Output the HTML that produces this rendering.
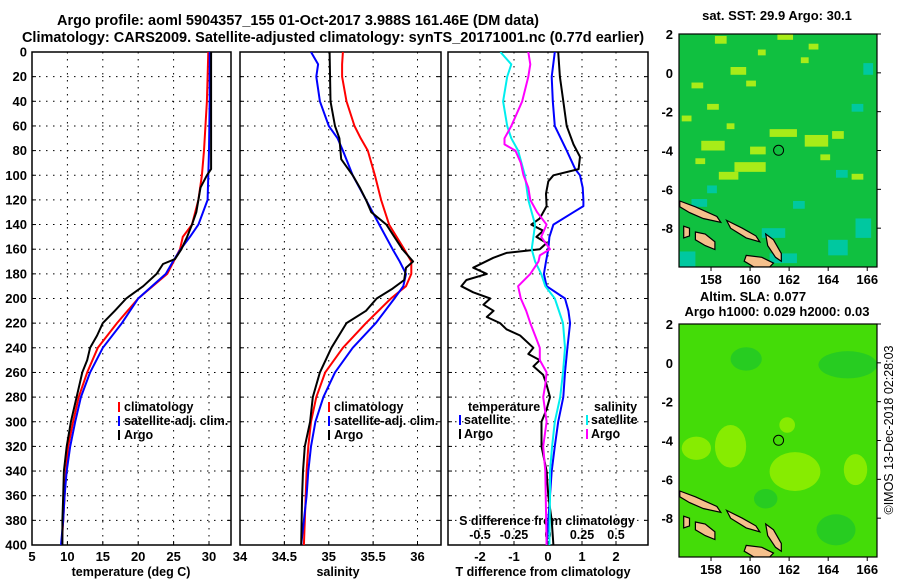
<!DOCTYPE html>
<html><head><meta charset="utf-8">
<style>
html,body{margin:0;padding:0;background:#fff;}
svg{display:block;font-family:"Liberation Sans",sans-serif;font-weight:bold;}
</style></head>
<body>
<svg id="fig" width="900" height="580" viewBox="0 0 900 580" xmlns="http://www.w3.org/2000/svg">
<text x="298" y="25" font-size="14.5" text-anchor="middle">Argo profile: aoml 5904357_155 01-Oct-2017 3.988S 161.46E (DM data)</text>
<text x="333" y="42" font-size="14.5" text-anchor="middle">Climatology: CARS2009. Satellite-adjusted climatology: synTS_20171001.nc (0.77d earlier)</text>
<g id="root"></g>
</svg>
<script>
// ---------- data ----------
const tDepth = [0,40,80,100,120,140,150,160,170,180,200,220,240,260,280,300,320,340,360,380,400];
const tClim  = [29.9,29.7,29.3,29.0,28.5,27.6,26.3,25.9,25.0,24.1,20.0,17.0,14.3,12.8,11.6,10.8,10.1,9.8,9.6,9.4,9.2];
const tSat   = [30.1,30.1,30.0,29.9,29.8,28.5,27.3,26.0,24.9,23.9,20.0,17.7,15.0,13.2,11.9,11.1,10.4,9.9,9.6,9.4,9.1];
const argoDepth = [0,80,95,100,110,120,130,140,150,160,168,172,180,190,200,210,220,230,240,250,260,280,300,320,340,360,380,400];
const tArgo  = [30.3,30.3,30.3,29.7,28.8,28.5,28.2,27.6,26.9,26.1,25.2,23.5,22.6,20.7,18.3,16.7,15.0,14.2,13.2,12.8,12.1,11.3,10.5,9.9,9.5,9.4,9.3,9.3];
const sDepth = [0,10,20,40,60,70,80,100,120,140,160,170,180,190,200,220,240,260,280,300,320,340,360,400];
const sClim  = [35.16,35.15,35.15,35.2,35.29,35.36,35.44,35.52,35.59,35.68,35.85,35.93,35.93,35.87,35.7,35.42,35.16,34.96,34.86,34.8,34.77,34.75,34.74,34.72];
const sSat   = [34.8,34.88,34.86,34.9,35.0,35.1,35.16,35.27,35.42,35.57,35.72,35.8,35.87,35.84,35.74,35.53,35.27,35.07,34.94,34.85,34.8,34.77,34.75,34.69];
const sArgoDepth = [0,40,60,70,87,100,110,120,130,140,150,160,170,175,185,192,200,210,220,240,260,280,300,320,340,360,400];
const sArgo  = [35.01,35.02,35.07,35.12,35.14,35.27,35.35,35.42,35.48,35.65,35.74,35.83,35.95,35.87,35.85,35.72,35.54,35.42,35.2,35.03,34.9,34.82,34.79,34.73,34.71,34.7,34.69];
const dDepthSat = [0,20,40,60,80,95,100,110,120,125,130,140,150,160,170,180,190,200,210,220,240,260,280,300,320,340,360,380,400];
const dTSat  = [0.2,0.11,0.14,0.2,0.55,0.8,0.94,1.02,1.04,1.04,0.75,0.16,0.04,0.01,-0.06,-0.12,-0.04,0.5,0.6,0.65,0.57,0.5,0.45,0.3,0.2,0.11,0.06,0.01,-0.04];
const dDepthArgo = [0,20,40,60,75,85,95,100,105,115,125,135,140,145,150,155,160,163,167,175,180,185,190,195,200,205,210,215,220,225,230,240,245,250,255,262,270,280,290,300,320,340,360,380,400];
const dTArgo = [0.3,0.35,0.45,0.55,0.75,0.94,0.9,0.16,0.01,-0.06,-0.04,-0.24,-0.49,-0.14,-0.34,-0.04,-0.24,-1.22,-1.61,-2.2,-1.8,-2.4,-2.55,-2.2,-1.7,-1.9,-1.6,-1.8,-1.41,-1.22,-0.82,-0.43,-0.58,-0.24,-0.43,-0.14,-0.04,0.06,-0.04,-0.19,-0.19,-0.04,0.01,0.11,0.16];
const dSDepth = [0,10,20,40,60,70,80,100,120,140,160,170,180,190,200,220,240,260,280,300,320,340,360,400];
const dSSat  = [-0.35,-0.27,-0.3,-0.33,-0.3,-0.27,-0.22,-0.17,-0.145,-0.095,-0.12,-0.095,-0.05,-0.02,0.05,0.11,0.125,0.11,0.09,0.05,0.03,0.015,0.015,0.01];
const dSArgoDepth = [0,10,20,40,60,70,75,80,90,100,110,120,130,140,150,160,165,170,180,190,200,210,220,230,240,250,260,270,280,300,320,340,400];
const dSArgo = [-0.145,-0.13,-0.145,-0.19,-0.27,-0.32,-0.32,-0.24,-0.2,-0.18,-0.145,-0.13,-0.08,-0.01,-0.05,0.015,-0.06,-0.07,-0.13,-0.22,-0.2,-0.16,-0.13,-0.095,-0.06,-0.06,-0.01,-0.02,-0.035,-0.01,-0.035,-0.02,-0.01];
const depthTicks = [0,20,40,60,80,100,120,140,160,180,200,220,240,260,280,300,320,340,360,380,400];
const tTicks = [5,10,15,20,25,30];
const sTicks = [34,34.5,35,35.5,36];
const dTTicks = [-2,-1,0,1,2];
const dSTickLabels = ["-0.5","-0.25","0","0.25","0.5"];
const dSTicks = [-0.5,-0.25,0,0.25,0.5];
const latTicks = [2,0,-2,-4,-6,-8];
const lonTicks = [158,160,162,164,166];
// map patches: [lon, lat, widthDeg, heightDeg]
const sstWarm = [[158.2,1.9,0.6,0.4],[161.4,2,0.8,0.3],[159,0.3,0.8,0.4],[157,-0.5,0.6,0.3],[161,-2.9,1.4,0.4],[162.8,-3.2,1.2,0.6],[157.5,-3.5,1.2,0.5],[159.2,-4.6,1.6,0.5],[158.4,-5.1,1,0.4],[164.2,-3,0.6,0.4],[156.5,-2.2,0.5,0.3],[163,1.5,0.5,0.3],[160,-3.8,0.8,0.4],[165.2,-5.2,0.6,0.3],[159.8,-0.4,0.5,0.3],[157.8,-1.6,0.6,0.3],[160.4,1.2,0.4,0.3],[162.6,0.8,0.4,0.3],[158.8,-2.6,0.4,0.3],[163.6,-4.2,0.5,0.3],[157.2,-4.4,0.5,0.3]];
const sstCool = [[156.4,-9.2,0.8,0.8],[160.6,-8,1.2,0.5],[164,-8.6,1,0.8],[165.4,-7.5,0.8,1],[164.4,-5,0.6,0.4],[161,-9.3,1.4,0.5],[157,-6.5,0.8,0.4],[165.8,0.5,0.5,0.6],[165.2,-1.6,0.6,0.4],[157.8,-5.8,0.5,0.4],[162.2,-6.6,0.6,0.4]];
const slaHigh = [[158.2,-3.2,1.6,2.2],[161,-4.6,2.6,2],[164.8,-4.7,1.2,1.6],[156.5,-3.8,1.5,1.2],[161.5,-2.8,0.8,0.8]];
const slaLow  = [[159,0.8,1.6,1.2],[163.5,0.6,3,1.4],[163.4,-7.8,2,1.6],[160.2,-6.5,1.2,1]];
// islands as lon/lat polygons
const islandA = [[156.4,-6.6],[157.2,-6.9],[158.3,-7.4],[158.5,-7.7],[157.6,-7.5],[156.9,-7.2],[156.4,-6.9]];
const islandB = [[158.8,-7.6],[159.6,-8.0],[160.3,-8.4],[160.5,-8.7],[159.8,-8.5],[159.0,-8.0]];
const islandC = [[159.8,-9.4],[160.6,-9.5],[161.2,-9.8],[161.0,-10],[160.2,-10],[159.7,-9.7]];
const islandD = [[160.8,-8.3],[161.2,-8.6],[161.6,-9.3],[161.6,-9.7],[161.3,-9.5],[160.9,-8.9]];
const islandE = [[157.2,-8.2],[157.7,-8.3],[158.2,-8.7],[158.2,-9.1],[157.7,-8.9],[157.2,-8.6]];
const islandF = [[156.6,-7.9],[156.9,-8.0],[156.9,-8.4],[156.6,-8.5]];
const argoLon = 161.46, argoLat = -3.988;

// ---------- helpers ----------
const NS = "http://www.w3.org/2000/svg";
const root = document.getElementById('root');
function mk(tag, attrs, parent){const e=document.createElementNS(NS,tag);for(const k in attrs)e.setAttribute(k,attrs[k]);(parent||root).appendChild(e);return e;}
const Y0=52, Y1=545;
const yD = d => Y0 + (Y1-Y0)*d/400;
function lin(d0,d1,r0,r1){return v=>r0+(v-d0)*(r1-r0)/(d1-d0);}
const P1={x0:32,x1:231}, P2={x0:240,x1:441}, P3={x0:448,x1:648};
const xT = lin(5,30,32,209);
const xS = lin(34,36,240,417.5);
const xDT = lin(-2,2,480,616);
const xDS = lin(-0.5,0.5,480,616);

function panel(P,name,vgrid,xf){
  const g=mk('g',{});
  
  
  depthTicks.forEach(d=>{
    if(d>0&&d<400){const l=mk('line',{x1:P.x0,x2:P.x1,y1:yD(d),y2:yD(d),stroke:'#000','stroke-width':1,'stroke-dasharray':'1.5,5.5'},g);
    }
    mk('line',{x1:P.x0,x2:P.x0+4,y1:yD(d),y2:yD(d),stroke:'#000','stroke-width':1},g);
    mk('line',{x1:P.x1,x2:P.x1-4,y1:yD(d),y2:yD(d),stroke:'#000','stroke-width':1},g);
  });
  vgrid.forEach(v=>{const x=xf(v); if(x>P.x0+1&&x<P.x1-1){
    const l=mk('line',{x1:x,x2:x,y1:Y0,y2:Y1,stroke:'#000','stroke-width':1,'stroke-dasharray':'1.5,5.5'},g);
    }
    mk('line',{x1:x,x2:x,y1:Y1,y2:Y1-4,stroke:'#000'},g);});
  const r=mk('rect',{x:P.x0,y:Y0,width:P.x1-P.x0,height:Y1-Y0,fill:'none',stroke:'#000','stroke-width':1.5},g);
  
  const cp=mk('clipPath',{id:'cp'+name},g);mk('rect',{x:P.x0,y:Y0,width:P.x1-P.x0,height:Y1-Y0},cp);
  return g;
}
function line(depths,vals,xf,color,name,clip){
  const pts=depths.map((d,i)=>xf(vals[i]).toFixed(1)+','+yD(d).toFixed(1)).join(' ');
  const p=mk('polyline',{points:pts,fill:'none',stroke:color,'stroke-width':2,'stroke-linejoin':'round','clip-path':'url(#cp'+clip+')'});
  
  
}
function text(x,y,s,opts,name){const t=mk('text',Object.assign({x:x,y:y,'font-size':12.5},opts||{}));t.textContent=s;
  
  return t;}

// ---------- panel 1 temperature ----------
panel(P1,'temperature-panel',tTicks,xT);
depthTicks.forEach(d=>text(27,yD(d)+4.5,String(d),{'text-anchor':'end','font-size':13},'depth-tick-label'));
tTicks.forEach(v=>text(xT(v),561,String(v),{'text-anchor':'middle','font-size':13},'temperature-tick-label'));
text(131,576,'temperature (deg C)',{'text-anchor':'middle'},'temperature-axis-title');
line(tDepth,tClim,xT,'#ff0000','temp-climatology-line','temperature-panel');
line(tDepth,tSat,xT,'#0000ff','temp-satellite-line','temperature-panel');
line(argoDepth,tArgo,xT,'#000000','temp-argo-line','temperature-panel');

// ---------- panel 2 salinity ----------
panel(P2,'salinity-panel',sTicks,xS);
sTicks.forEach(v=>text(xS(v),561,String(v),{'text-anchor':'middle','font-size':13},'salinity-tick-label'));
text(338,576,'salinity',{'text-anchor':'middle'},'salinity-axis-title');
line(sDepth,sClim,xS,'#ff0000','sal-climatology-line','salinity-panel');
line(sDepth,sSat,xS,'#0000ff','sal-satellite-line','salinity-panel');
line(sArgoDepth,sArgo,xS,'#000000','sal-argo-line','salinity-panel');

// legends panels 1 & 2
[[119,'temp-legend'],[329,'sal-legend']].forEach(([lx,nm])=>{
  [['climatology','#ff0000',407],['satellite-adj. clim.','#0000ff',421],['Argo','#000',435]].forEach(([lab,c,y])=>{
    const b=mk('rect',{x:lx-1,y:y-5,width:2,height:10,fill:c});
    
    text(lx+5,y+4,lab,{},nm+'-entry');
  });
});

// ---------- panel 3 differences ----------
panel(P3,'difference-panel',dTTicks,xDT);
dTTicks.forEach(v=>text(xDT(v),561,String(v),{'text-anchor':'middle','font-size':13},'t-diff-tick-label'));
text(543,576,'T difference from climatology',{'text-anchor':'middle'},'t-diff-axis-title');
text(547,525,'S difference from climatology',{'text-anchor':'middle'},'s-diff-axis-title');
dSTicks.forEach((v,i)=>text(xDS(v),539,dSTickLabels[i],{'text-anchor':'middle'},'s-diff-tick-label'));
line(dDepthSat,dTSat,xDT,'#0000ff','t-diff-satellite-line','difference-panel');
line(dDepthArgo,dTArgo,xDT,'#000000','t-diff-argo-line','difference-panel');
line(dSDepth,dSSat,xDS,'#00eeee','s-diff-satellite-line','difference-panel');
line(dSArgoDepth,dSArgo,xDS,'#ff00ff','s-diff-argo-line','difference-panel');
text(468,411,'temperature',{},'t-legend-heading');
text(594,411,'salinity',{},'s-legend-heading');
[[460,'satellite','#0000ff',424],[460,'Argo','#000',438],[587,'satellite','#00eeee',424],[587,'Argo','#ff00ff',438]].forEach(([lx,lab,c,y])=>{
  const b=mk('rect',{x:lx-1,y:y-9,width:2,height:10,fill:c});
  
  text(lx+4,y,lab,{},'diff-legend-entry');
});

// ---------- maps ----------
const lonX = lin(156.36,166.5,679,877);
function drawMap(top,name,base,warm,warmC,cool,coolC,soft){
  const bot=top+233;
  const latY = lin(2,-10,top,bot);
  const g=mk('g',{});
  
  
  const cp=mk('clipPath',{id:'cp'+name},g);mk('rect',{x:679,y:top,width:198,height:233},cp);
  const inner=mk('g',{'clip-path':'url(#cp'+name+')'},g);
  const bg=mk('rect',{x:679,y:top,width:198,height:233,fill:base},inner);
  
  function patch(p,col,nm){
    const x0=lonX(p[0]),x1=lonX(p[0]+p[2]),y0=latY(p[1]),y1=latY(p[1]-p[3]);
    let r;
    if(soft) r=mk('ellipse',{cx:(x0+x1)/2,cy:(y0+y1)/2,rx:(x1-x0)/2,ry:(y1-y0)/2,fill:col,opacity:0.8},inner);
    else r=mk('rect',{x:x0,y:y0,width:x1-x0,height:y1-y0,fill:col},inner);
    
  }
  warm.forEach(p=>patch(p,warmC,'map-cell-high'));
  cool.forEach(p=>patch(p,coolC,'map-cell-low'));
  [islandA,islandB,islandC,islandD,islandE,islandF].forEach(isl=>{
    const pts=isl.map(q=>lonX(q[0]).toFixed(1)+','+latY(q[1]).toFixed(1)).join(' ');
    const pg=mk('polygon',{points:pts,fill:'#f5c08c',stroke:'#000','stroke-width':1.2},inner);
    
  });
  const c=mk('circle',{cx:lonX(argoLon),cy:latY(argoLat),r:5,fill:'none',stroke:'#000','stroke-width':1},g);
  
  const fr=mk('rect',{x:679,y:top,width:198,height:233,fill:'none',stroke:'#000','stroke-width':1.2},g);
  
  latTicks.forEach(v=>{const y=latY(v);
    mk('line',{x1:877,x2:881,y1:y,y2:y,stroke:'#000'},g);
    text(673,y+5,String(v),{'text-anchor':'end','font-size':13},'lat-tick-label');});
  lonTicks.forEach(v=>{const x=lonX(v);
    mk('line',{x1:x,x2:x,y1:bot,y2:bot+4,stroke:'#000'},g);
    text(x,bot+17,String(v),{'text-anchor':'middle','font-size':13},'lon-tick-label');});
}
drawMap(34,'sst-map','#10c040',sstWarm,'#a8ec18',sstCool,'#00c8a0',false);
drawMap(324,'sla-map','#44dc08',slaHigh,'#98f000',slaLow,'#20c828',true);
text(777,20,'sat. SST: 29.9 Argo: 30.1',{'text-anchor':'middle','font-size':13},'sst-map-title');
text(753,301,'Altim. SLA: 0.077',{'text-anchor':'middle','font-size':13},'sla-map-title');
text(777,316,'Argo h1000: 0.029 h2000: 0.03',{'text-anchor':'middle','font-size':13},'sla-map-subtitle');
text(0,0,'©IMOS 13-Dec-2018 02:28:03',{'text-anchor':'middle',transform:'translate(893,430) rotate(-90)','font-weight':'normal'},'imos-credit');
</script>
</body></html>
